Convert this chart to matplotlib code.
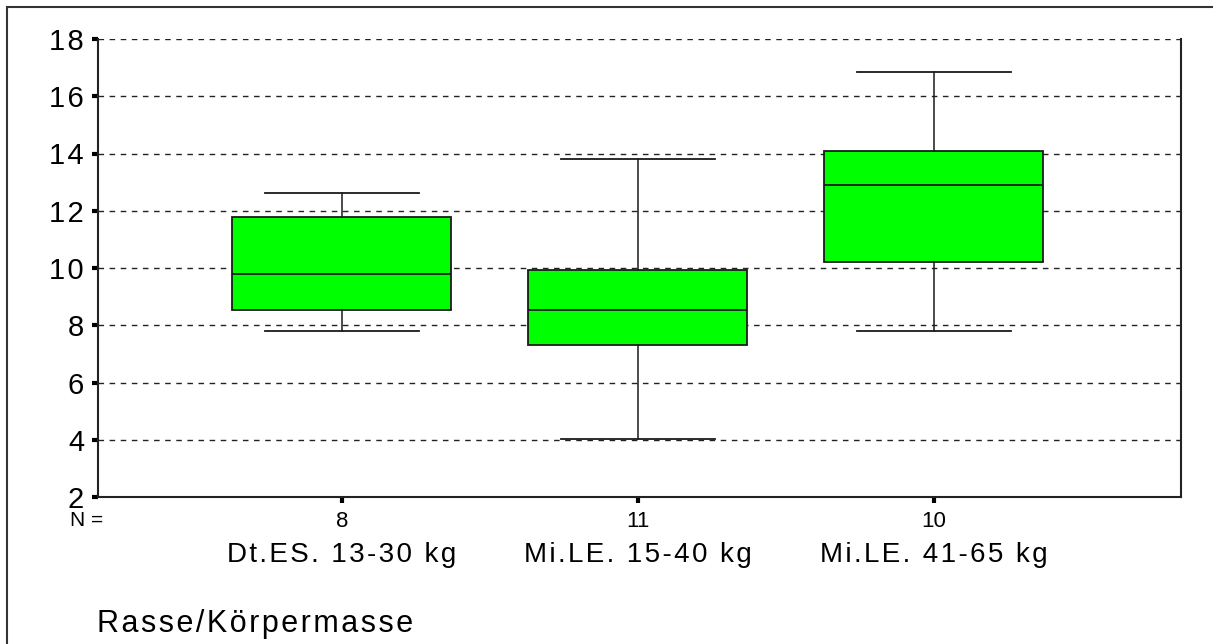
import matplotlib.pyplot as plt
from matplotlib.patches import Rectangle

plt.rcParams['font.family'] = ['Liberation Sans', 'DejaVu Sans']

groups = ['Dt.ES. 13-30 kg', 'Mi.LE. 15-40 kg', 'Mi.LE. 41-65 kg']
counts = [8, 11, 10]
whislo = [7.8, 4.02, 7.8]
q1 = [8.55, 7.3, 10.2]
med = [9.8, 8.55, 12.9]
q3 = [11.78, 9.93, 14.1]
whishi = [12.62, 13.8, 16.86]
yticks = [2, 4, 6, 8, 10, 12, 14, 16, 18]


def spaced(s, sep='\u200a'):
    # the original uses a slightly wider letter spacing
    return sep.join(s)


fig = plt.figure(figsize=(12.13, 6.44), dpi=100)
W, H = 1213, 644
ax = fig.add_axes([98 / W, 1 - 497 / H, (1181 - 98) / W, (497 - 39) / H])

# outer frame (only top/left visible in the original)
fig.patches.append(Rectangle((7 / W, -0.1), 1.2, 1 - 7 / H + 0.1, transform=fig.transFigure,
                             fill=False, edgecolor='#333333', linewidth=1.5))

stats = []
for i in range(len(groups)):
    stats.append(dict(whislo=whislo[i], q1=q1[i], med=med[i], q3=q3[i], whishi=whishi[i], fliers=[]))

pos = [1, 2, 3]
ax.bxp(stats, positions=pos, widths=0.74, patch_artist=True, showfliers=False,
       boxprops=dict(facecolor='#00ff00', edgecolor='#1a1a1a', linewidth=1.3),
       medianprops=dict(color='#1a1a1a', linewidth=1.3),
       whiskerprops=dict(color='#1a1a1a', linewidth=1.1),
       capprops=dict(color='#1a1a1a', linewidth=1.3), capwidths=0.52)

ax.set_xlim(0.176, 3.835)
ax.set_ylim(2, 18)
ax.set_yticks(yticks)
ax.set_yticklabels([spaced(str(t)) for t in yticks])
ax.tick_params(axis='y', labelsize=21, length=4, width=3, direction='out', pad=6)
ax.set_xticks(pos)
ax.set_xticklabels([])
ax.tick_params(axis='x', length=4, width=3, direction='out')
ax.yaxis.grid(True, linestyle=(0, (4, 4)), color='#222222', linewidth=1.0)
ax.set_axisbelow(True)
ax.spines['top'].set_visible(False)
for s in ['left', 'bottom', 'right']:
    ax.spines[s].set_color('#222222')
    ax.spines[s].set_linewidth(1.5)

fig.text(70 / W, 1 - 526 / H, 'N =', fontsize=15, ha='left', va='baseline')
for p, g, n in zip(pos, groups, counts):
    x = ax.transData.transform((p, 0))[0] / W
    fig.text(x, 1 - 527 / H, str(n), fontsize=16, ha='center', va='baseline')
    fig.text(x, 1 - 562 / H, spaced(g), fontsize=20, ha='center', va='baseline')

fig.text(97 / W, 1 - 632 / H, spaced('Rasse/Körpermasse'), fontsize=22, ha='left', va='baseline')

fig.savefig('out.png', dpi=100)
